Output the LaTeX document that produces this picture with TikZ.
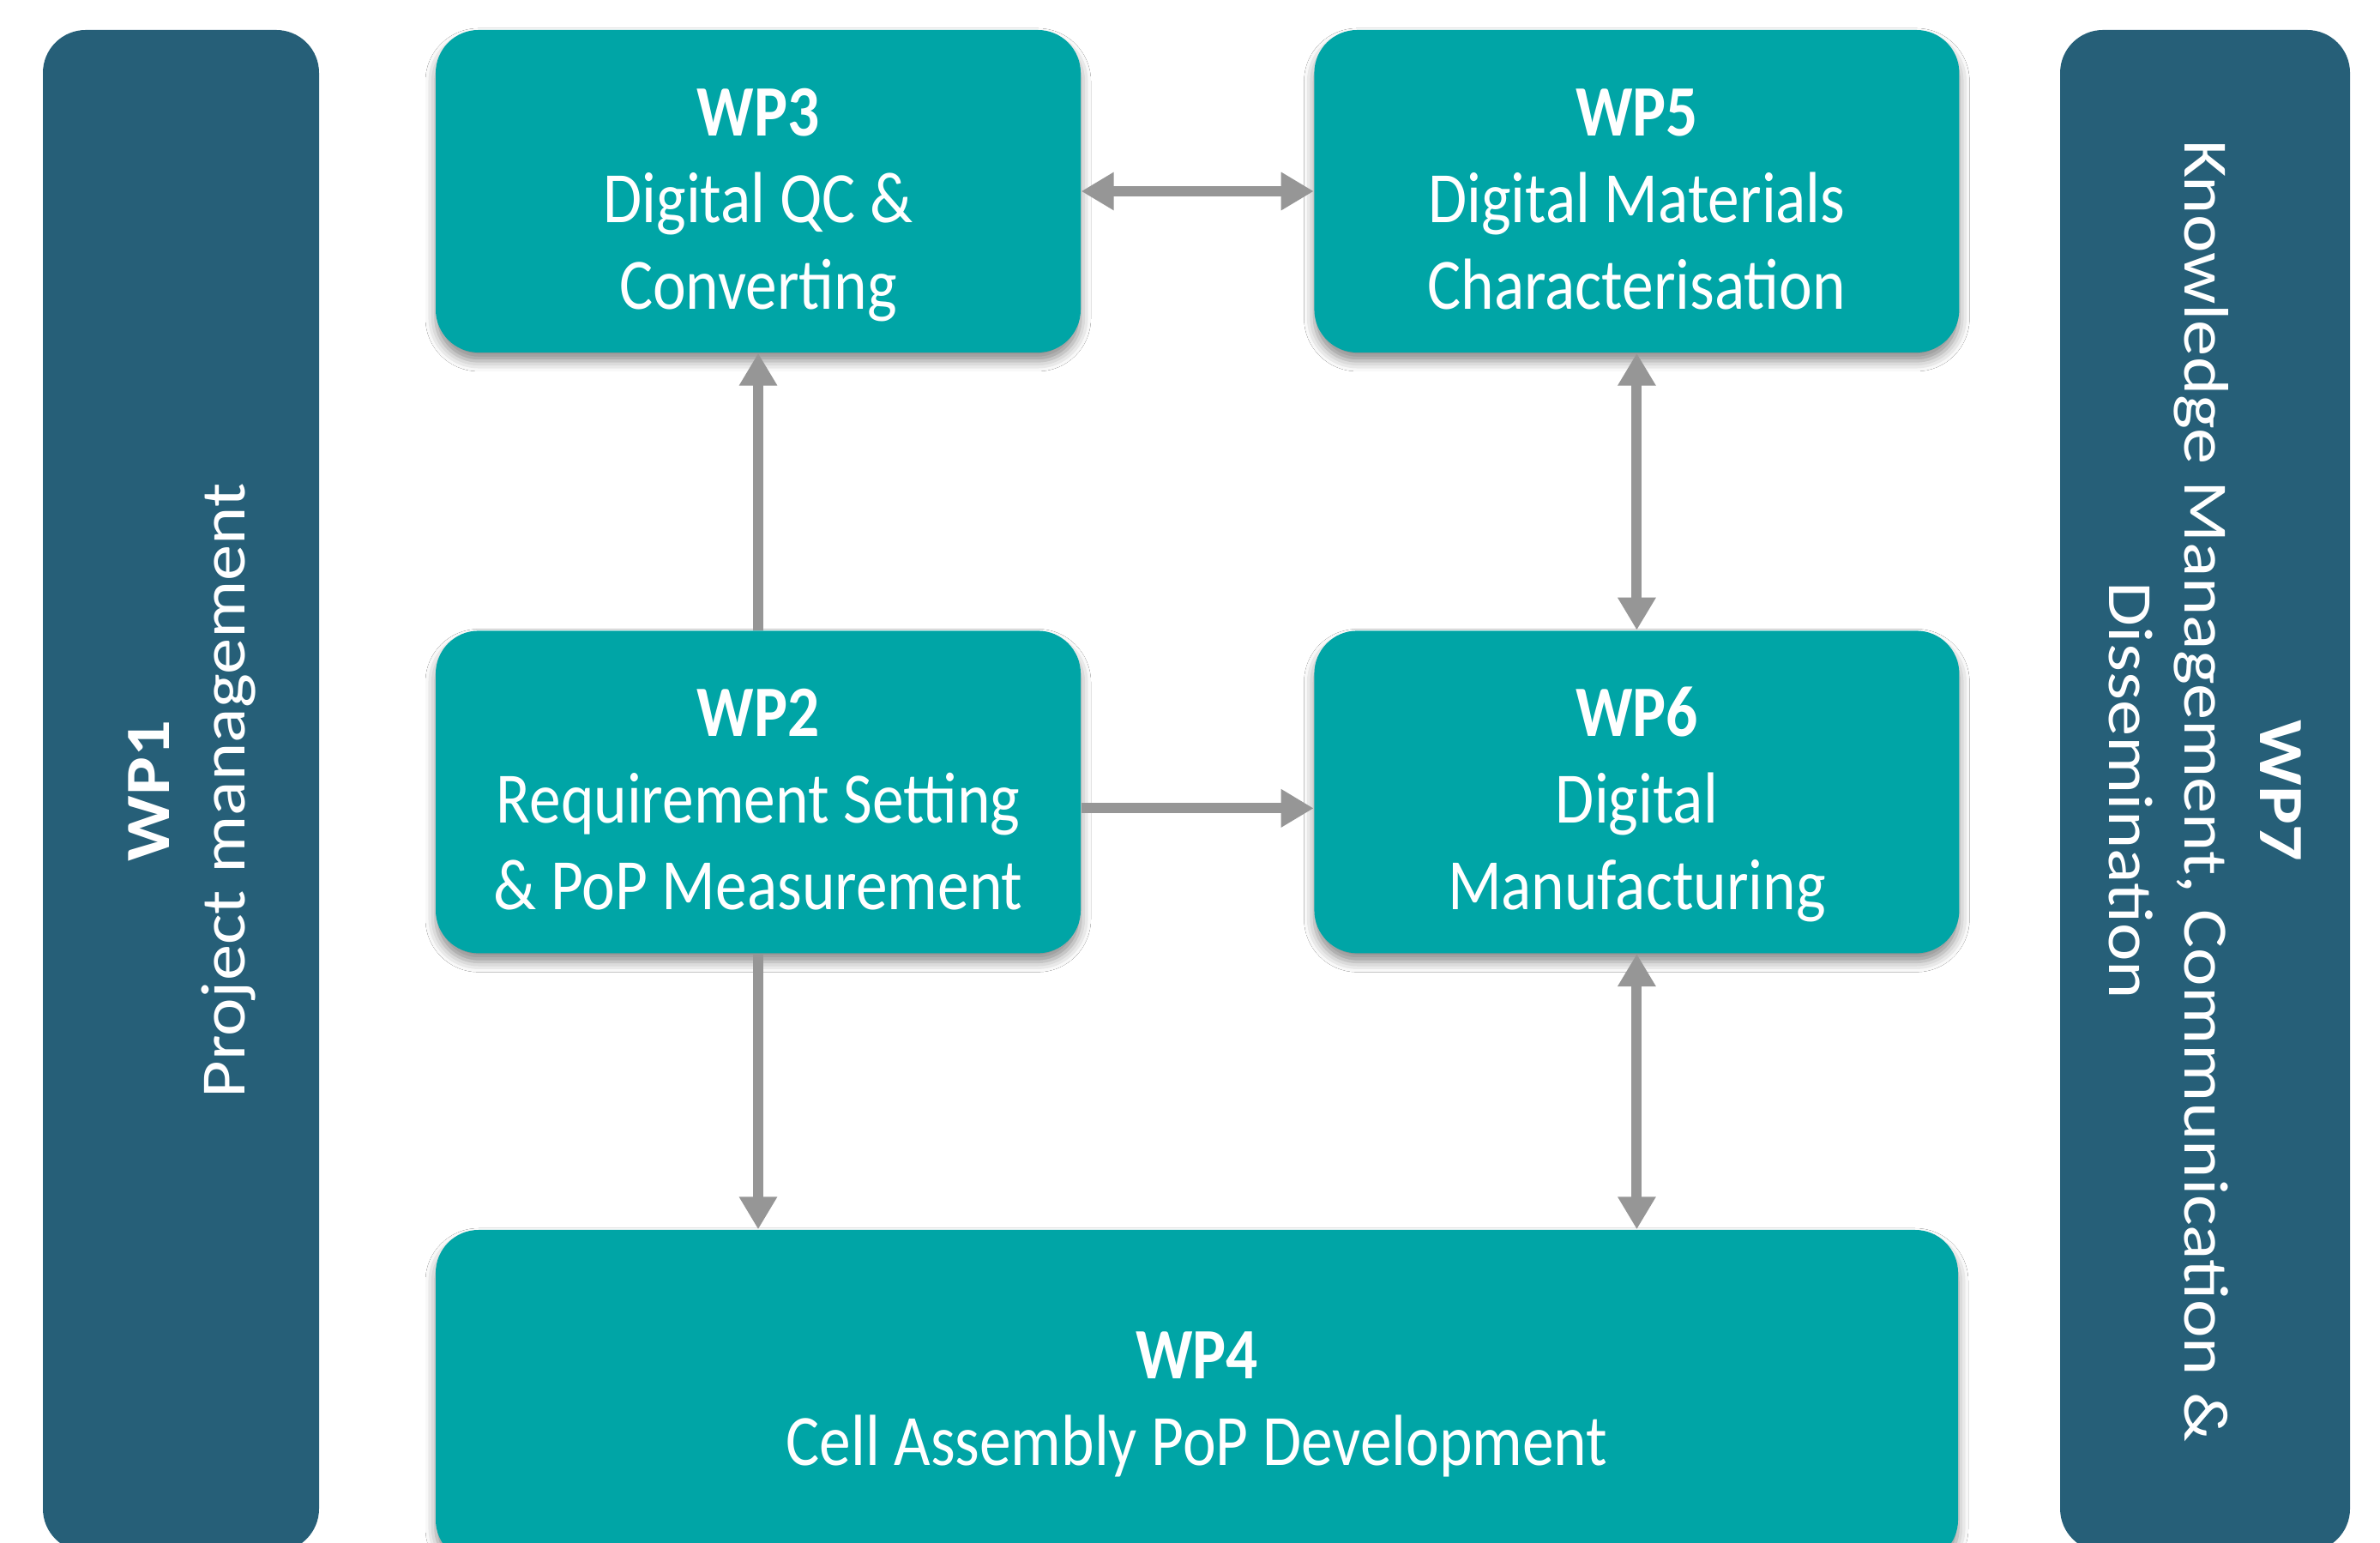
\documentclass[tikz,border=0pt]{standalone}
\usepackage{fontspec}
\usetikzlibrary{arrows.meta,positioning,shadows.blur}
\newfontfamily\boxfont{Carlito}[FakeStretch=0.87]
\newfontfamily\barfont{Carlito}[FakeStretch=1.15]
\definecolor{wpteal}{RGB}{0,165,166}
\definecolor{wpdark}{RGB}{38,95,120}
\definecolor{wplink}{RGB}{150,150,150}

\begin{document}
\begin{tikzpicture}[
		wpbox/.style={rectangle, rounded corners=0.5cm, fill=wpteal, text=white, align=center,
			minimum width=7.52cm, minimum height=3.76cm, inner sep=0pt,
			text height=78pt, text depth=0pt,
			font=\boxfont\fontsize{24}{28.7}\selectfont,
			blur shadow={shadow xshift=0pt, shadow yshift=-0.1cm, shadow blur radius=0.12cm, shadow opacity=45}},
		wpbar/.style={rectangle, rounded corners=0.5cm, fill=wpdark, text=white, align=center,
			minimum width=17.74cm, minimum height=3.3cm, inner sep=0pt, text depth=0pt,
			font=\barfont\fontsize{20.9}{25}\selectfont},
		link/.style={draw=wplink, line width=0.12cm, -{Triangle[length=0.38cm,width=0.42cm]}},
		both/.style={link, {Triangle[length=0.38cm,width=0.42cm]}-{Triangle[length=0.38cm,width=0.42cm]}},
	]
	\useasboundingbox[fill=white] (0,0) rectangle (27.75,17.99);

	% side bars
	\node[wpbar, rotate=90, minimum height=3.22cm, text height=42.5pt] (wp1) at (2.11,8.77)
		{{\bfseries WP1}\\Project management};
	\node[wpbar, rotate=-90, minimum height=3.38cm] (wp7) at (25.71,8.77)
		{{\bfseries WP7}\\Knowledge Management, Communication \&\\Dissemination};

	% work packages
	\node[wpbox] (wp3) at (8.84,15.76) {{\bfseries WP3}\\Digital QC \&\\Converting};
	\node[wpbox, right=2.71cm of wp3] (wp5) {{\bfseries WP5}\\Digital Materials\\Characterisation};
	\node[wpbox, below=3.23cm of wp3] (wp2) {{\bfseries WP2}\\Requirement Setting\\\& PoP Measurement};
	\node[wpbox, right=2.71cm of wp2] (wp6) {{\bfseries WP6}\\Digital\\Manufacturing};
	\node[wpbox, minimum width=17.75cm, minimum height=3.88cm, text height=46pt] (wp4) at (13.955,1.71)
		{{\bfseries WP4}\\Cell Assembly PoP Development};

	% links
	\draw[both] (wp3) -- (wp5);
	\draw[link] (wp2) -- (wp3);
	\draw[both] (wp5) -- (wp6);
	\draw[link] ([yshift=-0.19cm]wp2.east) -- ([yshift=-0.19cm]wp6.west);
	\draw[link] (wp2.south) -- (wp2.south |- wp4.north);
	\draw[both] (wp6.south) -- (wp6.south |- wp4.north);
%	\draw[link] (wp1) -- (wp7);
\end{tikzpicture}
\end{document}
